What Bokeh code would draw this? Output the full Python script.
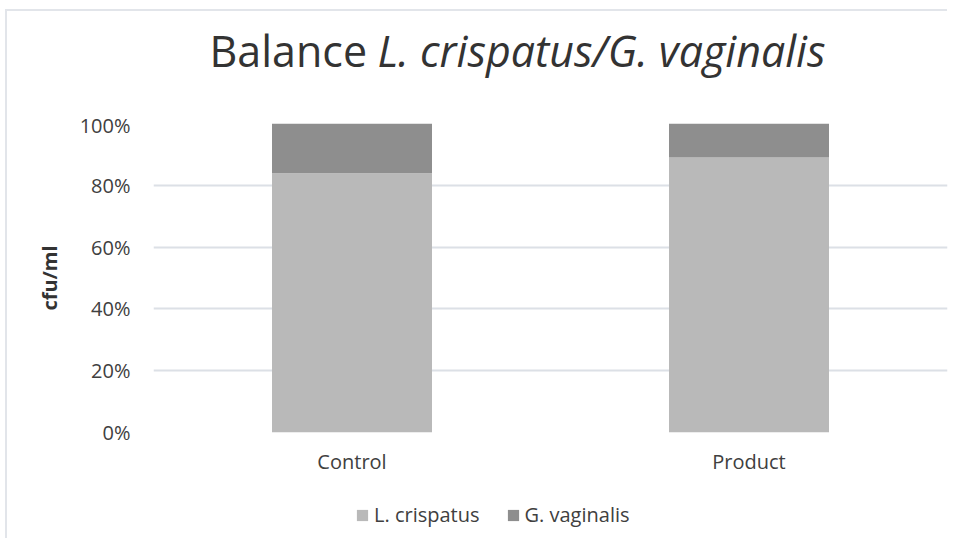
from bokeh.plotting import figure
from bokeh.layouts import column
from bokeh.models import (FactorRange, Range1d, FixedTicker, NumeralTickFormatter,
                          Legend, LegendItem, ColumnDataSource)
from bokeh.core.properties import value
from bokeh.embed import file_html
from bokeh.resources import INLINE

# ---- data ----
categories = ["Control", "Product"]
l_crispatus = [0.839, 0.890]
g_vaginalis = [0.161, 0.110]
series_names = ["L. crispatus", "G. vaginalis"]
y_ticks = [0, 0.2, 0.4, 0.6, 0.8, 1.0]
title_plain = "Balance"
title_italic = "L. crispatus/G. vaginalis"
y_label = "cfu/ml"

FONT = "Open Sans"
COLORS = ["#B9B9B9", "#8E8E8E"]
W = 942
TH, MH, LH = 100, 369, 60          # heights of title strip, chart, legend strip
FL, FT, FW, FH = 146, 12, 794, 309  # chart frame inside the chart figure


def strip(h, yr):
    f = figure(width=W, height=h, x_range=Range1d(FL, FL + FW), y_range=yr,
               x_axis_location=None, y_axis_location=None,
               output_backend="svg", toolbar_location=None,
               min_border_left=FL, min_border_right=W - FL - FW,
               min_border_top=0, min_border_bottom=0)
    f.outline_line_color = None
    f.grid.visible = False
    return f


# ---- title strip (x in canvas pixels, y downward) ----
tf = strip(TH, Range1d(TH, 0))
tf.text(x=[202], y=[39], text=[title_plain], text_font=value(FONT),
        text_font_size="43px", text_baseline="alphabetic", text_color="#333333")
tf.text(x=[370], y=[39], text=[title_italic], text_font=value(FONT),
        text_font_size="43px", text_font_style="italic",
        text_baseline="alphabetic", text_color="#333333")

# ---- chart ----
source = ColumnDataSource(dict(cat=categories, lc=l_crispatus, gv=g_vaginalis))
p = figure(x_range=FactorRange(*categories), y_range=Range1d(0, 1),
           width=W, height=MH, output_backend="svg", toolbar_location=None,
           min_border_left=FL, min_border_right=W - FL - FW,
           min_border_top=FT, min_border_bottom=MH - FT - FH)
p.vbar_stack(["lc", "gv"], x="cat", width=0.403, color=COLORS,
             line_color=None, source=source)

p.outline_line_color = None
p.xgrid.grid_line_color = None
p.ygrid.grid_line_color = "#DCE0E6"
p.ygrid.grid_line_width = 2
p.yaxis.ticker = FixedTicker(ticks=y_ticks)
p.yaxis.formatter = NumeralTickFormatter(format="0%")
for ax in (p.xaxis[0], p.yaxis[0]):
    ax.axis_line_color = None
    ax.major_tick_line_color = None
    ax.minor_tick_line_color = None
    ax.major_tick_out = 0
    ax.major_label_text_font = FONT
    ax.major_label_text_font_size = "20px"
    ax.major_label_text_color = "#404040"
p.yaxis.major_label_standoff = 23
p.xaxis.major_label_standoff = 15
p.yaxis.axis_label = y_label
p.yaxis.axis_label_text_font = FONT
p.yaxis.axis_label_text_font_size = "20px"
p.yaxis.axis_label_text_font_style = "bold"
p.yaxis.axis_label_text_color = "#333333"
p.yaxis.axis_label_standoff = 14

# ---- legend strip ----
lf = strip(LH, Range1d(0, LH))
keys = [lf.vbar(x=[FL], top=[0], bottom=[0], width=1, color=c, line_color=None)
        for c in COLORS]
legend = Legend(items=[LegendItem(label=n, renderers=[r]) for n, r in zip(series_names, keys)],
                orientation="horizontal", location=(202, 12),
                padding=0, margin=0, spacing=26, label_standoff=5,
                glyph_width=14, glyph_height=14,
                label_text_font=FONT, label_text_font_size="20px",
                label_text_color="#404040", border_line_color=None,
                background_fill_alpha=0)
lf.add_layout(legend, "center")

layout = column(tf, p, lf, spacing=0)
layout.styles = {"margin-left": "7px", "margin-top": "11px",
                 "box-shadow": "-2px -2px 0 0 #E2E5EA"}
open("out.html", "w").write(file_html(layout, INLINE))
